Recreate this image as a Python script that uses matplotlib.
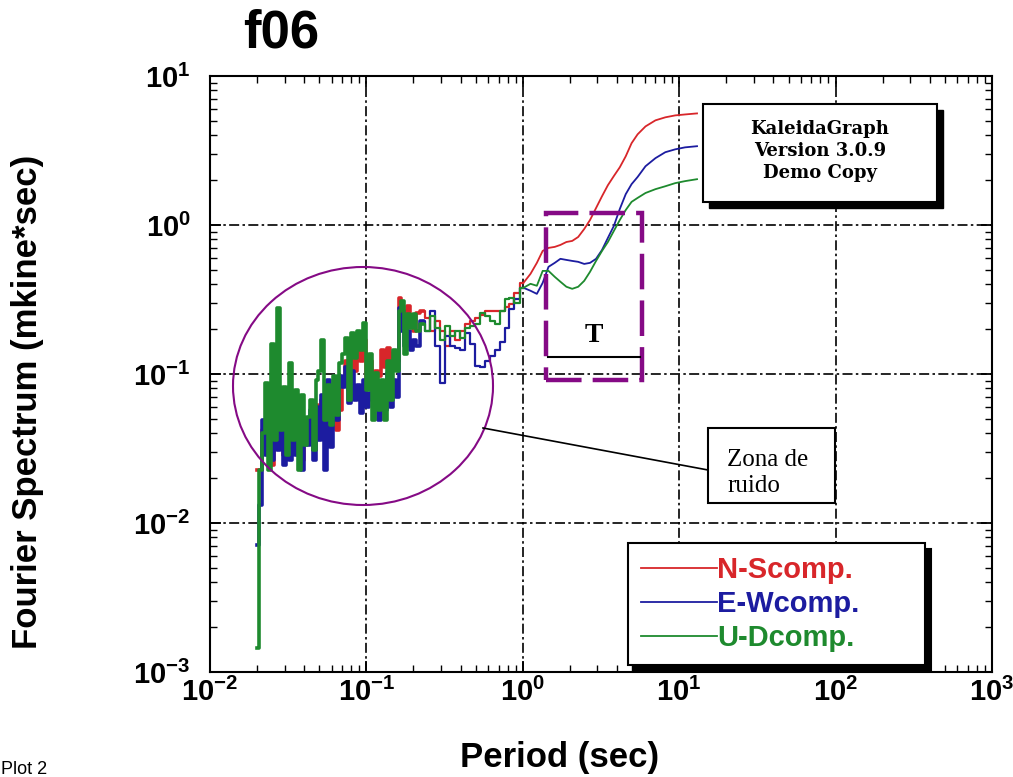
import matplotlib
matplotlib.use('Agg')
import matplotlib.pyplot as plt
from matplotlib import patches, lines
from matplotlib.ticker import FuncFormatter, LogLocator, NullFormatter
import numpy as np

# fuentes: etiquetas de ejes en negrita tipo Arial
plt.rcParams['font.family'] = 'Liberation Sans'
plt.rcParams['mathtext.fontset'] = 'custom'
plt.rcParams['mathtext.rm'] = 'Liberation Sans:bold'
plt.rcParams['mathtext.it'] = 'Liberation Sans:bold'
plt.rcParams['mathtext.bf'] = 'Liberation Sans:bold'

# periodo (s)
period = [0.0201, 0.0210, 0.0220, 0.0230, 0.0240, 0.0251, 0.0262, 0.0274, 0.0286, 0.0299,
          0.0312, 0.0326, 0.0341, 0.0356, 0.0372, 0.0388, 0.0406, 0.0424, 0.0443, 0.0463,
          0.0483, 0.0505, 0.0527, 0.0551, 0.0575, 0.0601, 0.0627, 0.0655, 0.0684, 0.0715,
          0.0746, 0.0780, 0.0814, 0.0851, 0.0889, 0.0928, 0.0970, 0.101, 0.106, 0.111,
          0.116, 0.121, 0.126, 0.132, 0.138, 0.144, 0.150, 0.157, 0.164, 0.171,
          0.179, 0.187, 0.195, 0.204, 0.213,
          0.230, 0.247, 0.265, 0.286, 0.307, 0.330, 0.355, 0.382, 0.411, 0.442,
          0.476, 0.511, 0.550, 0.592, 0.637, 0.685, 0.736, 0.792, 0.852, 0.916,
          1.01, 1.12, 1.23, 1.34, 1.46, 1.60, 1.74, 1.90, 2.07, 2.26,
          2.47, 2.69, 2.94, 3.21, 3.50, 3.82, 4.17, 4.55, 4.96, 5.42,
          6.09, 7.05, 8.15, 9.43, 10.9, 13.0]

# espectro de Fourier (mkine*sec) por componente
ns_comp = [0.0226, 0.0226, 0.0419, 0.0317, 0.0419, 0.0244, 0.0489, 0.0332, 0.0570, 0.0285,
           0.0489, 0.0359, 0.0528, 0.0332, 0.0489, 0.0264, 0.0419, 0.0359, 0.0489, 0.0308,
           0.0616, 0.0453, 0.0665, 0.0419, 0.0718, 0.0489, 0.0776, 0.0419, 0.0570, 0.0905,
           0.123, 0.0776, 0.160, 0.105, 0.181, 0.123, 0.168, 0.0905, 0.123, 0.0776,
           0.105, 0.0977, 0.144, 0.111, 0.150, 0.118, 0.139, 0.123, 0.325, 0.266,
           0.195, 0.287, 0.228, 0.195, 0.258,
           0.266, 0.239, 0.195, 0.228, 0.195, 0.155, 0.195, 0.168, 0.195, 0.218,
           0.228, 0.239, 0.250, 0.266, 0.266, 0.266, 0.266, 0.283, 0.296, 0.351,
           0.409, 0.470, 0.557, 0.670, 0.702, 0.713, 0.735, 0.769, 0.782, 0.831,
           0.940, 1.08, 1.30, 1.56, 1.85, 2.13, 2.44, 2.89, 3.54, 4.06,
           4.59, 5.04, 5.28, 5.44, 5.52, 5.61]

ew_comp = [0.00713, 0.0132, 0.0489, 0.0285, 0.0665, 0.0264, 0.0570, 0.0308, 0.0489, 0.0244,
           0.0453, 0.0264, 0.0528, 0.0285, 0.0419, 0.0226, 0.0489, 0.0332, 0.0570, 0.0264,
           0.0597, 0.0359, 0.0718, 0.0226, 0.0905, 0.0322, 0.0776, 0.0489, 0.0977, 0.0812,
           0.111, 0.0635, 0.105, 0.0665, 0.0838, 0.0544, 0.0905, 0.0597, 0.0741, 0.0665,
           0.0838, 0.0489, 0.0718, 0.0570, 0.101, 0.0597, 0.0905, 0.0697, 0.279, 0.195,
           0.155, 0.195, 0.144, 0.168, 0.155,
           0.228, 0.195, 0.266, 0.155, 0.0864, 0.181, 0.155, 0.150, 0.144, 0.187,
           0.160, 0.114, 0.111, 0.123, 0.133, 0.144, 0.163, 0.205, 0.274, 0.320,
           0.379, 0.362, 0.345, 0.409, 0.524, 0.557, 0.593, 0.583, 0.574, 0.566,
           0.548, 0.557, 0.593, 0.680, 0.819, 0.985, 1.28, 1.61, 1.88, 2.10,
           2.48, 2.81, 3.08, 3.22, 3.32, 3.38]

ud_comp = [0.00146, 0.0226, 0.0400, 0.0864, 0.0226, 0.160, 0.0359, 0.279, 0.0419, 0.0812,
           0.0285, 0.118, 0.0359, 0.0776, 0.0226, 0.0718, 0.0332, 0.0512, 0.0665, 0.0308,
           0.0905, 0.105, 0.168, 0.0489, 0.0838, 0.0453, 0.0977, 0.0528, 0.118, 0.137,
           0.175, 0.0665, 0.187, 0.129, 0.195, 0.144, 0.221, 0.0776, 0.137, 0.0489,
           0.101, 0.0570, 0.0905, 0.0489, 0.123, 0.0665, 0.144, 0.105, 0.266, 0.310,
           0.137, 0.254, 0.205, 0.254, 0.195,
           0.218, 0.195, 0.246, 0.205, 0.168, 0.211, 0.181, 0.195, 0.175, 0.205,
           0.211, 0.218, 0.258, 0.246, 0.228, 0.218, 0.266, 0.320, 0.325, 0.301,
           0.379, 0.403, 0.391, 0.492, 0.492, 0.449, 0.416, 0.385, 0.373, 0.385,
           0.422, 0.485, 0.574, 0.670, 0.769, 0.912, 1.08, 1.26, 1.43, 1.52,
           1.64, 1.74, 1.82, 1.91, 1.97, 2.03]

labels = ['N-Scomp.', 'E-Wcomp.', 'U-Dcomp.']
colors = ['#d8262a', '#1c1ca0', '#1e8a2e']

n_noise = 55   # zona de ruido (trazo grueso)
n_mid = 75     # tramo intermedio escalonado

W, H = 1013, 777
fig = plt.figure(figsize=(W / 100, H / 100), dpi=100)

def fx(px):
    return px / W

def fy(py):
    return 1 - py / H

ax = fig.add_axes([fx(210), fy(672), fx(992) - fx(210), fy(76) - fy(672)])
ax.set_xscale('log')
ax.set_yscale('log')

handles = []
for amp, col, lab in zip([ns_comp, ew_comp, ud_comp], colors, labels):
    ax.plot(period[:n_noise + 1], amp[:n_noise + 1], color=col, lw=2.6, drawstyle='steps-mid')
    ax.plot(period[n_noise:n_mid + 1], amp[n_noise:n_mid + 1], color=col, lw=1.6, drawstyle='steps-mid')
    ln, = ax.plot(period[n_mid:], amp[n_mid:], color=col, lw=1.3, label=lab)
    handles.append(ln)

ax.set_xlim(1e-2, 1e3)
ax.set_ylim(1e-3, 1e1)

def pow10(v, pos):
    e = int(round(np.log10(v)))
    return r'$\mathrm{10^{%d}}$' % e

for axis in (ax.xaxis, ax.yaxis):
    axis.set_major_locator(LogLocator(base=10, numticks=10))
    axis.set_minor_locator(LogLocator(base=10, subs=np.arange(2, 10), numticks=20))
    axis.set_major_formatter(FuncFormatter(pow10))
    axis.set_minor_formatter(NullFormatter())

ax.tick_params(which='both', direction='in', top=True, right=True, labelsize=21)
ax.tick_params(which='major', length=8, width=1.3)
ax.tick_params(which='minor', length=5, width=1.0)
ax.tick_params(axis='x', pad=4)
ax.tick_params(axis='y', pad=14)
for s in ax.spines.values():
    s.set_linewidth(1.5)
ax.grid(which='major', color='k', linestyle=(0, (6, 2, 1.5, 2)), lw=1.2)

# leyenda con sombra, ocupa todo el recuadro
leg = ax.legend(handles=handles, loc='upper left',
                bbox_to_anchor=(fx(628), fy(663), fx(925) - fx(628), fy(543) - fy(663)),
                bbox_transform=fig.transFigure, mode='expand', frameon=True, fancybox=False,
                shadow={'ox': 4.5, 'oy': -4.5, 'color': 'k', 'alpha': 1},
                prop={'family': 'Liberation Sans', 'weight': 'bold', 'size': 21},
                labelcolor='linecolor', handlelength=2.6, handletextpad=0.0,
                labelspacing=0.2, borderpad=0.45, borderaxespad=0)
leg.get_frame().set_edgecolor('k')
leg.get_frame().set_linewidth(1.5)
leg.get_frame().set_facecolor('white')

# titulos
fig.text(fx(243), fy(33), 'f06', fontsize=38, fontweight='bold', ha='left', va='center')
fig.text(fx(28), fy(402), 'Fourier Spectrum (mkine*sec)', fontsize=25, fontweight='bold',
         rotation=90, ha='center', va='center')
fig.text(fx(560), fy(758), 'Period (sec)', fontsize=25, fontweight='bold', ha='center', va='center')
fig.text(fx(1), fy(769), 'Plot 2', fontsize=13, ha='left', va='center')

def rect(x0, y0, x1, y1, **kw):
    r = patches.Rectangle((fx(x0), fy(y1)), fx(x1) - fx(x0), fy(y0) - fy(y1),
                          transform=fig.transFigure, **kw)
    fig.add_artist(r)
    return r

def seg(x0, y0, x1, y1, **kw):
    fig.add_artist(lines.Line2D([fx(x0), fx(x1)], [fy(y0), fy(y1)], transform=fig.transFigure, **kw))

# recuadro KaleidaGraph
rect(709, 110, 943, 208, facecolor='k', edgecolor='k')
rect(703, 104, 937, 202, facecolor='white', edgecolor='k', lw=1.5)
fig.text(fx(820), fy(151), 'KaleidaGraph\nVersion 3.0.9\nDemo Copy', family='DejaVu Serif',
         fontsize=13, fontweight='bold', ha='center', va='center', linespacing=1.3)

# zona de ruido
purple = '#850a85'
fig.add_artist(patches.Ellipse((fx(363), fy(386)), 260 / W, 238 / H, transform=fig.transFigure,
                               fill=False, edgecolor=purple, lw=1.5))
seg(483, 428, 708, 470, color='k', lw=1.2)
rect(708, 428, 835, 503, facecolor='white', edgecolor='k', lw=1.5)
fig.text(fx(727), fy(473), 'Zona de\nruido', family='Liberation Serif', fontsize=18,
         ha='left', va='center', linespacing=1.2)

# periodo T
rect(546, 213, 642, 380, fill=False, edgecolor=purple, lw=3.2, linestyle=(0, (8, 2.5)))
seg(548, 357, 640, 357, color='k', lw=1.5)
fig.text(fx(594), fy(336), 'T', family='Liberation Serif', fontsize=20, fontweight='bold',
         ha='center', va='center')

fig.savefig('out.png', dpi=100)
